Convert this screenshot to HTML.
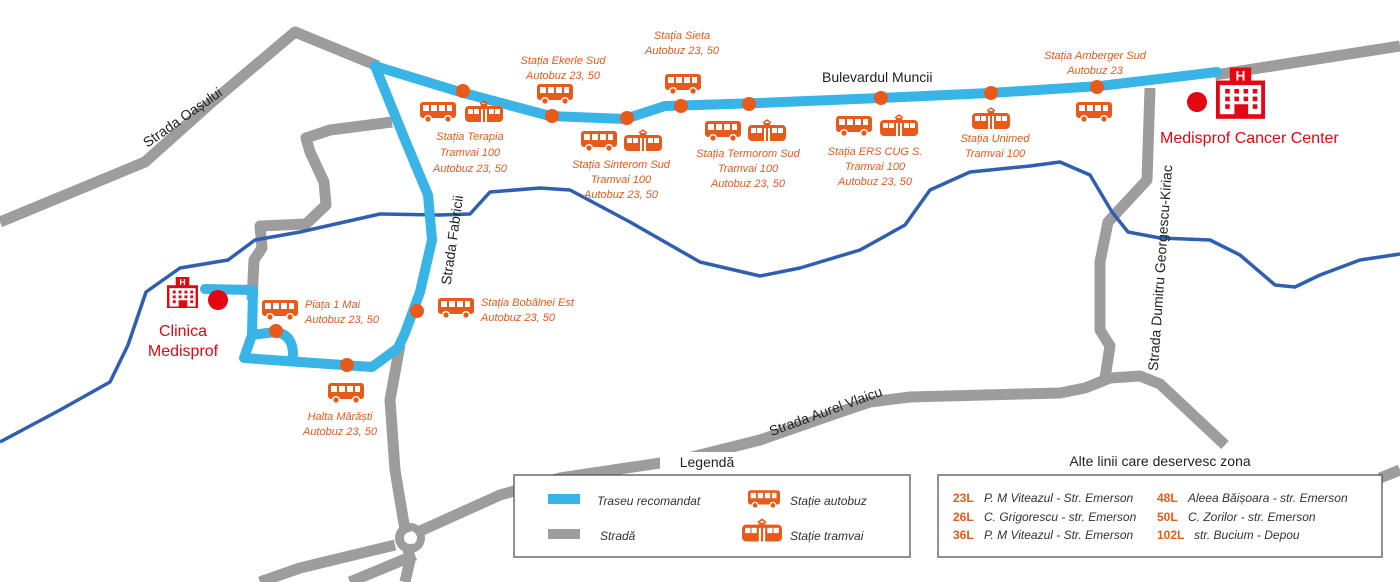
<!DOCTYPE html>
<html><head><meta charset="utf-8"><style>
html,body{margin:0;padding:0;background:#fff;}
svg{display:block;}
.o{font-family:"Liberation Sans",sans-serif;font-style:italic;font-size:11px;fill:#e8591a;text-anchor:middle;}
.ol{font-family:"Liberation Sans",sans-serif;font-style:italic;font-size:11px;fill:#e8591a;}
.k{font-family:"Liberation Sans",sans-serif;font-size:14px;fill:#222;}
.r{font-family:"Liberation Sans",sans-serif;font-size:16px;fill:#e30613;}
.lg{font-family:"Liberation Sans",sans-serif;font-style:italic;font-size:12px;fill:#333;}
.b{font-family:"Liberation Sans",sans-serif;font-weight:bold;font-size:12px;fill:#e8591a;}
</style></head><body>
<svg width="1400" height="582" viewBox="0 0 1400 582" xmlns="http://www.w3.org/2000/svg">
<defs>
<symbol id="bus" viewBox="0 0 36 22">
<rect x="0" y="0" width="36" height="16" rx="3" fill="#e8591a"/>
<rect x="3" y="3" width="6" height="6" fill="#fff"/><rect x="11" y="3" width="6" height="6" fill="#fff"/><rect x="19" y="3" width="6" height="6" fill="#fff"/><rect x="27" y="3" width="5" height="6" fill="#fff"/>
<circle cx="8" cy="17" r="4" fill="#fff"/><circle cx="8" cy="17" r="2.6" fill="#e8591a"/>
<circle cx="28" cy="17" r="4" fill="#fff"/><circle cx="28" cy="17" r="2.6" fill="#e8591a"/>
</symbol>
<symbol id="tram" viewBox="0 0 38 24">
<path d="M15 4 L19 1 L23 4" stroke="#e8591a" stroke-width="1.5" fill="none"/>
<rect x="16" y="4" width="6" height="2" fill="#e8591a"/>
<rect x="0" y="6" width="38" height="16" rx="4" fill="#e8591a"/>
<rect x="3" y="9" width="5" height="5" fill="#fff"/><rect x="9" y="9" width="5" height="5" fill="#fff"/>
<rect x="16" y="9" width="2" height="13" fill="#fff"/><rect x="20" y="9" width="2" height="13" fill="#fff"/>
<rect x="24" y="9" width="5" height="5" fill="#fff"/><rect x="30" y="9" width="5" height="5" fill="#fff"/>
</symbol>
<symbol id="hosp" viewBox="0 0 32 32">
<rect x="9" y="0" width="14" height="10" fill="#e30613"/>
<text x="16" y="8.5" font-family="Liberation Sans" font-weight="bold" font-size="9" fill="#fff" text-anchor="middle">H</text>
<rect x="1" y="10" width="30" height="22" fill="none" stroke="#e30613" stroke-width="3"/>
<g fill="#e30613"><rect x="6" y="14" width="3" height="3"/><rect x="12" y="14" width="3" height="3"/><rect x="18" y="14" width="3" height="3"/><rect x="24" y="14" width="3" height="3"/>
<rect x="6" y="19" width="3" height="3"/><rect x="12" y="19" width="3" height="3"/><rect x="18" y="19" width="3" height="3"/><rect x="24" y="19" width="3" height="3"/>
<rect x="6" y="24" width="3" height="3"/><rect x="24" y="24" width="3" height="3"/><rect x="12" y="24" width="9" height="8"/></g>
</symbol>
</defs>

<g fill="none" stroke="#9d9d9d" stroke-width="11" stroke-linejoin="round">
<path d="M0 222 L145 162 L212 102 L295 32 L378 66"/>
<path d="M392 122 L330 130 L306 138 L310 152 L324 182 L326 205 L306 224 L260 226 L262 248 L254 260 L252 300"/>
<path d="M1215 75 L1400 46"/>
<path d="M1150 88 L1147 180 L1108 222 L1100 262 L1100 330 L1110 346 L1105 378"/>
<path d="M400 345 L390 400 L395 470 L405 530 L410 560 L405 582"/>
<path d="M395 545 L300 568 L260 582"/>
<path d="M350 582 L415 555"/>
<path d="M418 532 L500 495 L560 478 L680 460 L760 440 L840 412 L870 402 L910 397 L1060 393 L1085 388 L1110 378 L1140 376 L1160 384 L1225 445"/>
<path d="M1380 478 L1400 470"/>
</g>
<circle cx="410" cy="538" r="11" fill="none" stroke="#9d9d9d" stroke-width="8"/>
<circle cx="410" cy="538" r="6" fill="#fff"/>

<path d="M0 442 L60 410 L110 382 L128 345 L146 292 L180 268 L228 260 L255 240 L300 232 L380 214 L440 215 L470 214 L490 192 L540 188 L570 190 L630 222 L700 262 L760 276 L800 268 L860 250 L905 225 L930 190 L970 172 L1030 166 L1060 162 L1090 175 L1112 212 L1128 232 L1160 238 L1210 240 L1240 255 L1275 285 L1295 287 L1320 275 L1360 260 L1400 254" fill="none" stroke="#2f5fb0" stroke-width="3.5" stroke-linejoin="round"/>

<g fill="none" stroke="#38b4e7" stroke-width="10" stroke-linejoin="round" stroke-linecap="round">
<path d="M375 66 L460 92 L550 116 L625 119 L665 106 L760 103 L880 98 L990 93 L1100 86 L1217 72"/>
<path d="M375 66 L405 140 L428 195 L432 240 L420 292 L405 333 L398 348 L372 367 L300 362 L244 358 L252 335 L253 290 L205 289"/>
<path d="M252 335 L275 332 Q293 334 293 355"/>
</g>

<g fill="#e8591a">
<circle cx="463" cy="91" r="7"/><circle cx="552" cy="116" r="7"/><circle cx="627" cy="118" r="7"/><circle cx="681" cy="106" r="7"/>
<circle cx="749" cy="104" r="7"/><circle cx="881" cy="98" r="7"/><circle cx="991" cy="93" r="7"/><circle cx="1097" cy="87" r="7"/>
<circle cx="417" cy="311" r="7"/><circle cx="276" cy="331" r="7"/><circle cx="347" cy="365" r="7"/>
</g>

<use href="#bus" x="420" y="102" width="36" height="22"/><use href="#tram" x="465" y="100" width="38" height="24"/>
<use href="#bus" x="537" y="84" width="36" height="22"/>
<use href="#bus" x="665" y="74" width="36" height="22"/>
<use href="#bus" x="581" y="131" width="36" height="22"/><use href="#tram" x="624" y="129" width="38" height="24"/>
<use href="#bus" x="705" y="121" width="36" height="22"/><use href="#tram" x="748" y="119" width="38" height="24"/>
<use href="#bus" x="836" y="116" width="36" height="22"/><use href="#tram" x="880" y="114" width="38" height="24"/>
<use href="#tram" x="972" y="107" width="38" height="24"/>
<use href="#bus" x="1076" y="102" width="36" height="22"/>
<use href="#bus" x="262" y="300" width="36" height="22"/>
<use href="#bus" x="438" y="298" width="36" height="22"/>
<use href="#bus" x="328" y="383" width="36" height="22"/>

<text class="o" x="470" y="140">Stația Terapia<tspan x="470" dy="16">Tramvai 100</tspan><tspan x="470" dy="16">Autobuz 23, 50</tspan></text>
<text class="o" x="563" y="64">Stația Ekerle Sud<tspan x="563" dy="15">Autobuz 23, 50</tspan></text>
<text class="o" x="682" y="39">Stația Sieta<tspan x="682" dy="15">Autobuz 23, 50</tspan></text>
<text class="o" x="621" y="168">Stația Sinterom Sud<tspan x="621" dy="15">Tramvai 100</tspan><tspan x="621" dy="15">Autobuz 23, 50</tspan></text>
<text class="o" x="748" y="157">Stația Termorom Sud<tspan x="748" dy="15">Tramvai 100</tspan><tspan x="748" dy="15">Autobuz 23, 50</tspan></text>
<text class="o" x="875" y="155">Stația ERS CUG S.<tspan x="875" dy="15">Tramvai 100</tspan><tspan x="875" dy="15">Autobuz 23, 50</tspan></text>
<text class="o" x="995" y="142">Stația Unimed<tspan x="995" dy="15">Tramvai 100</tspan></text>
<text class="o" x="1095" y="59">Stația Amberger Sud<tspan x="1095" dy="15">Autobuz 23</tspan></text>
<text class="ol" x="305" y="308">Piața 1 Mai<tspan x="305" dy="15">Autobuz 23, 50</tspan></text>
<text class="ol" x="481" y="306">Stația Bobâlnei Est<tspan x="481" dy="15">Autobuz 23, 50</tspan></text>
<text class="o" x="340" y="420">Halta Mărăști<tspan x="340" dy="15">Autobuz 23, 50</tspan></text>

<text class="k" x="822" y="82" font-size="15">Bulevardul Muncii</text>
<text class="k" x="183" y="122" text-anchor="middle" transform="rotate(-35 183 118)">Strada Oașului</text>
<text class="k" x="452" y="245" text-anchor="middle" transform="rotate(-82 452 240)">Strada Fabricii</text>
<text class="k" x="1161" y="272" text-anchor="middle" font-size="12" transform="rotate(-86 1161 268)">Strada Dumitru Georgescu-Kiriac</text>
<text class="k" x="826" y="416" text-anchor="middle" transform="rotate(-20 826 412)">Strada Aurel Vlaicu</text>

<use href="#hosp" x="167" y="277" width="31" height="31"/>
<circle cx="218" cy="300" r="10" fill="#e30613"/>
<text class="r" x="183" y="336" text-anchor="middle">Clinica</text>
<text class="r" x="183" y="356" text-anchor="middle">Medisprof</text>
<use href="#hosp" x="1216" y="62" width="49" height="60"/>
<circle cx="1197" cy="102" r="10" fill="#e30613"/>
<text class="r" x="1160" y="143">Medisprof Cancer Center</text>

<rect x="660" y="452" width="96" height="20" fill="#fff"/>
<text class="k" x="707" y="467" text-anchor="middle">Legendă</text>
<rect x="514" y="475" width="396" height="82" fill="#fff" stroke="#555" stroke-width="1.3"/>
<rect x="548" y="494" width="32" height="10" fill="#38b4e7"/>
<text class="lg" x="597" y="505">Traseu recomandat</text>
<rect x="548" y="529" width="32" height="10" fill="#9d9d9d"/>
<text class="lg" x="600" y="540">Stradă</text>
<use href="#bus" x="748" y="490" width="32" height="20"/>
<text class="lg" x="790" y="505">Stație autobuz</text>
<use href="#tram" x="742" y="518" width="40" height="26"/>
<text class="lg" x="790" y="540">Stație tramvai</text>

<text class="k" x="1160" y="466" text-anchor="middle">Alte linii care deservesc zona</text>
<rect x="938" y="475" width="444" height="82" fill="#fff" stroke="#555" stroke-width="1.3"/>
<text class="b" x="953" y="502">23L</text><text class="lg" x="984" y="502">P. M Viteazul - Str. Emerson</text>
<text class="b" x="953" y="521">26L</text><text class="lg" x="984" y="521">C. Grigorescu - str. Emerson</text>
<text class="b" x="953" y="539">36L</text><text class="lg" x="984" y="539">P. M Viteazul - Str. Emerson</text>
<text class="b" x="1157" y="502">48L</text><text class="lg" x="1188" y="502">Aleea Băișoara - str. Emerson</text>
<text class="b" x="1157" y="521">50L</text><text class="lg" x="1188" y="521">C. Zorilor - str. Emerson</text>
<text class="b" x="1157" y="539">102L</text><text class="lg" x="1194" y="539">str. Bucium - Depou</text>
</svg>
</body></html>
